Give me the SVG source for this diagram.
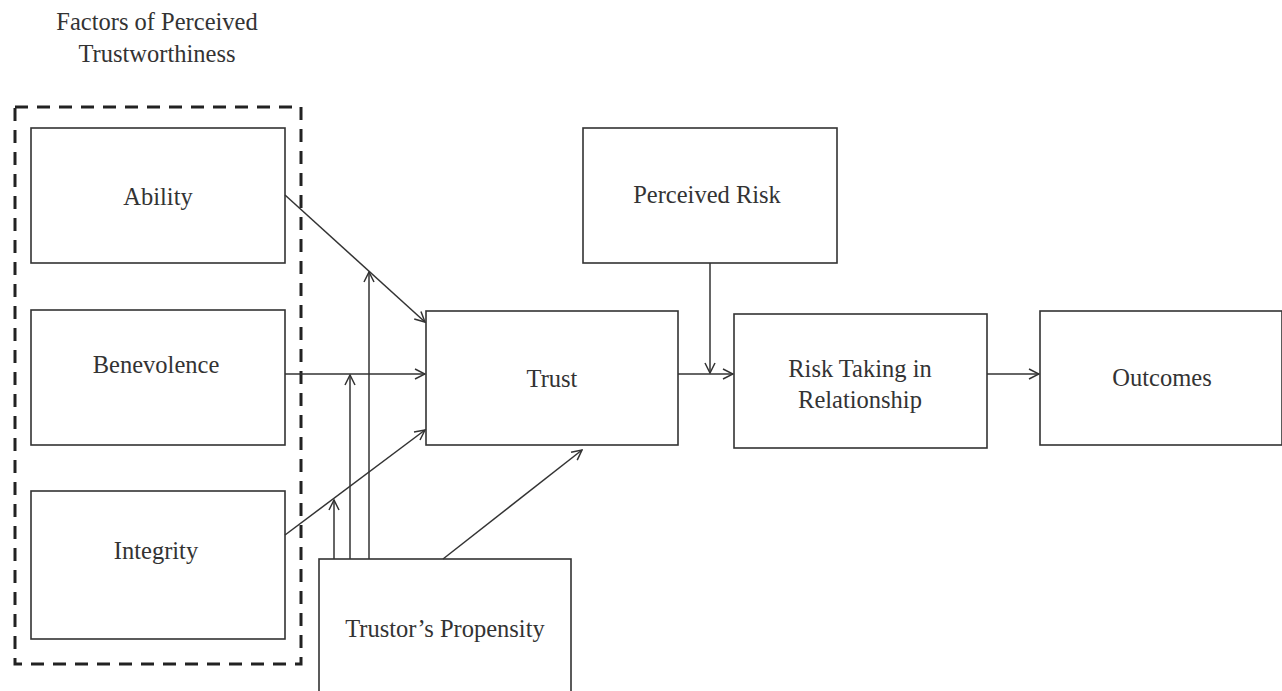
<svg xmlns="http://www.w3.org/2000/svg" width="1282" height="691" viewBox="0 0 1282 691">
<defs>
<style>
.box{fill:#fff;stroke:#333;stroke-width:1.6}
.t{font-family:"Liberation Serif","Times New Roman",serif;font-size:24.5px;fill:#333;text-anchor:middle}
.c{fill:none;stroke:#333;stroke-width:1.5}
.dash{fill:none;stroke:#222;stroke-width:3;stroke-dasharray:13 9}
</style>
<marker id="arr" viewBox="0 0 12 12" refX="11" refY="6" markerWidth="12" markerHeight="12" markerUnits="userSpaceOnUse" orient="auto">
<path d="M1,1 L11,6 L1,11" fill="none" stroke="#333" stroke-width="1.5"/>
</marker>
</defs>
<rect width="1282" height="691" fill="#fff"/>
<g id="title">
<text class="t" x="157" y="30">Factors of Perceived</text>
<text class="t" x="157" y="62">Trustworthiness</text>
</g>
<g id="group-frame"><rect class="dash" x="15" y="107" width="286" height="557"/></g>
<g id="ability"><rect class="box" x="31" y="128" width="254" height="135"/><text class="t" x="158" y="205">Ability</text></g>
<g id="benevolence"><rect class="box" x="31" y="310" width="254" height="135"/><text class="t" x="156" y="373">Benevolence</text></g>
<g id="integrity"><rect class="box" x="31" y="491" width="254" height="148"/><text class="t" x="156" y="559">Integrity</text></g>
<g id="trust"><rect class="box" x="426" y="311" width="252" height="134"/><text class="t" x="552" y="387">Trust</text></g>
<g id="perceived-risk"><rect class="box" x="583" y="128" width="254" height="135"/><text class="t" x="707" y="203">Perceived Risk</text></g>
<g id="risk-taking"><rect class="box" x="734" y="314" width="253" height="134"/><text class="t" x="860" y="377">Risk Taking in</text><text class="t" x="860" y="408">Relationship</text></g>
<g id="outcomes"><rect class="box" x="1040" y="311" width="242" height="134"/><text class="t" x="1162" y="386">Outcomes</text></g>
<g id="propensity"><rect class="box" x="319" y="559" width="252" height="140"/><text class="t" x="445" y="637">Trustor’s Propensity</text></g>
<g id="connectors">
<line class="c" x1="285" y1="195" x2="425" y2="322" marker-end="url(#arr)"/>
<line class="c" x1="285" y1="374" x2="425" y2="374" marker-end="url(#arr)"/>
<line class="c" x1="285" y1="535" x2="425" y2="430" marker-end="url(#arr)"/>
<line class="c" x1="334" y1="559" x2="334" y2="500" marker-end="url(#arr)"/>
<line class="c" x1="350" y1="559" x2="350" y2="375" marker-end="url(#arr)"/>
<line class="c" x1="369" y1="559" x2="369" y2="272" marker-end="url(#arr)"/>
<line class="c" x1="443" y1="559" x2="582" y2="450" marker-end="url(#arr)"/>
<line class="c" x1="678" y1="374" x2="733" y2="374" marker-end="url(#arr)"/>
<line class="c" x1="710" y1="263" x2="710" y2="373" marker-end="url(#arr)"/>
<line class="c" x1="987" y1="374" x2="1039" y2="374" marker-end="url(#arr)"/>
</g>
</svg>
